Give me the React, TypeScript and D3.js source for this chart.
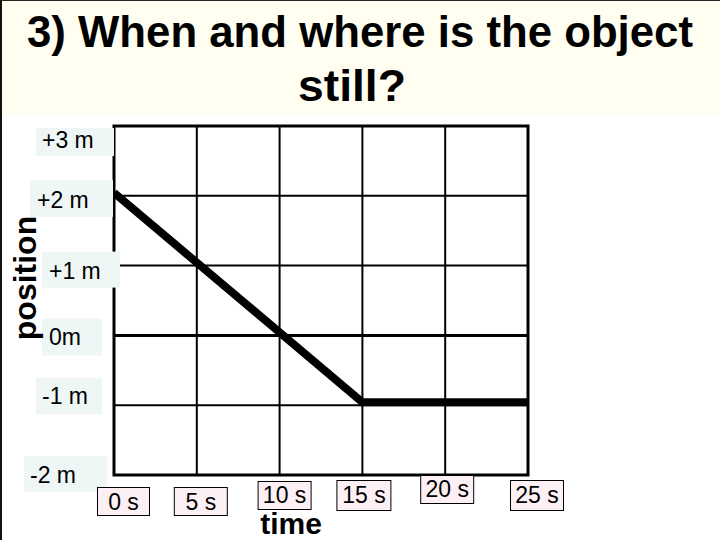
import React from "react";
import * as d3 from "d3";

// ---- data ----
const timeTicks = [0, 5, 10, 15, 20, 25];
const timeLabels = ["0 s", "5 s", "10 s", "15 s", "20 s", "25 s"];
const posTicks = [3, 2, 1, 0, -1, -2];
const posLabels = ["+3 m", "+2 m", "+1 m", "0m", "-1 m", "-2 m"];
const seriesTime = [0, 15, 25];
const seriesPos = [2, -1, -1];
const titleLines = ["3) When and where is the object", "still?"];

// ---- layout (style only) ----
const W = 720;
const H = 540;
const plot = { left: 114, right: 528, top: 126, bottom: 475 };
// y-label boxes: [x0, x1, dyTop, dyBottom, textX, textDy] relative to tick y
const yLabelBoxes = [
  [36, 114, 2, 30, 42, 22],
  [30, 113, -16, 21, 37, 12],
  [42, 120, -14, 22, 49, 13],
  [42, 102, -17, 20, 49, 10],
  [36, 102, -27, 9, 42, -1],
  [24, 107, -19, 17, 30, 8],
];
// x-label boxes: [dx0, dx1, y0, y1, baseline] relative to tick x
const xLabelBoxes = [
  [-17, 36, 487, 516, 510],
  [-23, 31, 487, 516, 510],
  [-22, 32, 481, 510, 503],
  [-26, 29, 480, 511, 503],
  [-25, 29, 475, 504, 497],
  [-18, 36, 480, 511, 503],
];

export default function App() {
  const x = d3.scaleLinear().domain([0, 25]).range([plot.left, plot.right]);
  const y = d3.scaleLinear().domain([-2, 3]).range([plot.bottom, plot.top]);
  const line = d3
    .line<number>()
    .x((_, i) => x(seriesTime[i]))
    .y((d) => y(d));
  const font = "'Liberation Sans', Arial, sans-serif";

  return (
    <svg
      width={W}
      height={H}
      style={{ position: "fixed", left: 0, top: 0, background: "#ffffff" }}
      fontFamily={font}
    >
      <rect x={0} y={0} width={W} height={115} fill="#FFFEF0" />
      <line x1={0} x2={W} y1={0.5} y2={0.5} stroke="#222" strokeWidth={1} />
      <line x1={1} x2={1} y1={0} y2={H} stroke="#111" strokeWidth={2} />

      <text
        x={27}
        y={47}
        fontSize={45}
        fontWeight="bold"
        fill="#000"
        textLength={666}
        lengthAdjust="spacingAndGlyphs"
      >
        {titleLines[0]}
      </text>
      <text
        x={298}
        y={101}
        fontSize={45}
        fontWeight="bold"
        fill="#000"
        textLength={108}
        lengthAdjust="spacingAndGlyphs"
      >
        {titleLines[1]}
      </text>

      {/* inner grid lines */}
      {timeTicks.slice(1, -1).map((t) => (
        <line key={"v" + t} x1={x(t)} x2={x(t)} y1={plot.top} y2={plot.bottom} stroke="#000" strokeWidth={2} />
      ))}
      {posTicks.slice(1, -1).map((p) => (
        <line
          key={"h" + p}
          x1={plot.left}
          x2={plot.right}
          y1={y(p)}
          y2={y(p)}
          stroke="#000"
          strokeWidth={p === 0 ? 3 : 2}
        />
      ))}
      <rect
        x={plot.left}
        y={plot.top}
        width={plot.right - plot.left}
        height={plot.bottom - plot.top}
        fill="none"
        stroke="#000"
        strokeWidth={3}
      />

      {/* data line */}
      <path
        d={line(seriesPos) || ""}
        transform="translate(0,-3)"
        fill="none"
        stroke="#000"
        strokeWidth={8}
        strokeLinejoin="miter"
        strokeLinecap="butt"
      />

      {/* y labels */}
      {posTicks.map((p, i) => {
        const [x0, x1, d0, d1, tx, td] = yLabelBoxes[i];
        const ty = y(p);
        return (
          <g key={"yl" + p}>
            <rect x={x0} y={ty + d0} width={x1 - x0} height={d1 - d0} fill="#EEF6F6" />
            <text x={tx} y={ty + td} fontSize={23} fill="#000">
              {posLabels[i]}
            </text>
          </g>
        );
      })}

      {/* x labels */}
      {timeTicks.map((t, i) => {
        const [dx0, dx1, y0, y1, base] = xLabelBoxes[i];
        const tx = x(t);
        return (
          <g key={"xl" + t}>
            <rect
              x={tx + dx0 + 0.5}
              y={y0 + 0.5}
              width={dx1 - dx0 - 1}
              height={y1 - y0 - 1}
              fill="#FCF0F4"
              stroke="#000"
              strokeWidth={1}
            />
            <text x={tx + (dx0 + dx1) / 2} y={base} textAnchor="middle" fontSize={23} fill="#000">
              {timeLabels[i]}
            </text>
          </g>
        );
      })}

      <text
        transform="translate(36,278) rotate(-90)"
        textAnchor="middle"
        fontSize={32}
        fontWeight="bold"
        fill="#000"
      >
        position
      </text>
      <text x={291} y={534} textAnchor="middle" fontSize={30} fontWeight="bold" fill="#000">
        time
      </text>
    </svg>
  );
}
